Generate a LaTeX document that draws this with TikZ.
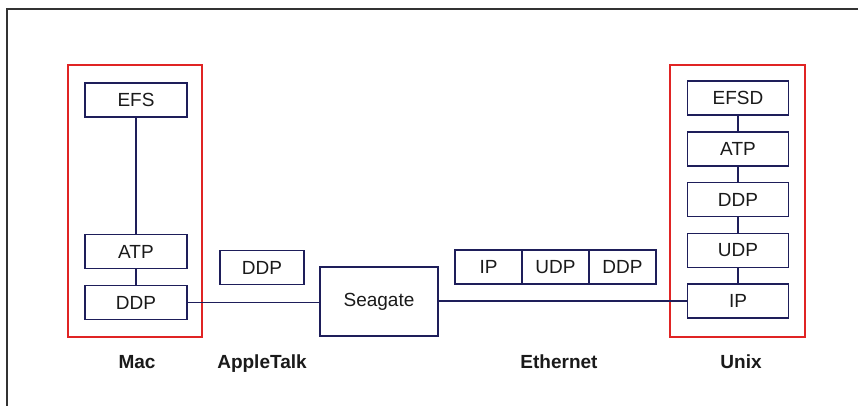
\documentclass[tikz,border=0pt]{standalone}
\usepackage{fontspec}
\setmainfont{Liberation Sans}
\definecolor{navy}{HTML}{1E1E5A}
\definecolor{boxred}{HTML}{E02424}
\definecolor{ink}{HTML}{1A1A1A}
\definecolor{frame}{HTML}{333333}
\begin{document}
\begin{tikzpicture}[x=1pt,y=-1pt,
  layer/.style={draw=navy,line width=1.8pt,fill=white,minimum width=102pt,minimum height=34pt,inner sep=0pt,text=ink,font=\fontsize{19}{22}\selectfont},
  cell/.style={layer,minimum width=67pt},
  hostbox/.style={draw=boxred,line width=1.5pt},
  link/.style={draw=navy,line width=1.8pt},
  caption/.style={anchor=base,text=ink,font=\fontsize{19}{22}\selectfont\bfseries}]
\useasboundingbox (0,0) rectangle (858,406);
\fill[white] (0,0) rectangle (858,406);
% frame
\coordinate (fb) at (7,406);
\coordinate (ftl) at (7,9);
\coordinate (fr) at (858,9);
\draw[frame,line width=1.8pt] (fb) -- (ftl) -- (fr);
% host boxes
\coordinate (macA) at (68,65); \coordinate (macB) at (202,337);
\coordinate (unxA) at (670,65); \coordinate (unxB) at (805,337);
\draw[hostbox] (macA) rectangle (macB);
\draw[hostbox] (unxA) rectangle (unxB);
% Mac stack
\node[layer] (mefs) at (136,100) {EFS};
\node[layer] (matp) at (136,251.5) {ATP};
\node[layer] (mddp) at (136,302.5) {DDP};
% AppleTalk packet
\node[layer,minimum width=84pt] (addp) at (262,267.5) {DDP};
% Seagate
\node[layer,minimum width=118pt,minimum height=69pt] (sea) at (379,301.5) {Seagate};
% Ethernet packet
\node[cell] (eip) at (488.5,267) {IP};
\node[cell] (eudp) at (555.5,267) {UDP};
\node[cell] (eddp) at (622.5,267) {DDP};
% Unix stack
\node[layer,minimum width=101pt] (uefsd) at (738,98) {EFSD};
\node[layer,minimum width=101pt] (uatp) at (738,149) {ATP};
\node[layer,minimum width=101pt] (uddp) at (738,199.5) {DDP};
\node[layer,minimum width=101pt] (uudp) at (738,250.5) {UDP};
\node[layer,minimum width=101pt] (uip) at (738,301) {IP};
% connectors
\draw[link] (mefs) -- (matp);
\draw[link] (matp) -- (mddp);
\draw[link] (mddp.east) -- (sea.west |- mddp.east);
\draw[link] (sea.east |- uip.west) -- (uip.west);
\draw[link] (uefsd) -- (uatp);
\draw[link] (uatp) -- (uddp);
\draw[link] (uddp) -- (uudp);
\draw[link] (uudp) -- (uip);
% captions
\node[caption] (cmac) at (137,368) {Mac};
\node[caption] (capl) at (262,368) {AppleTalk};
\node[caption] (ceth) at (559,368) {Ethernet};
\node[caption] (cunx) at (741,368) {Unix};
\end{tikzpicture}
\end{document}
